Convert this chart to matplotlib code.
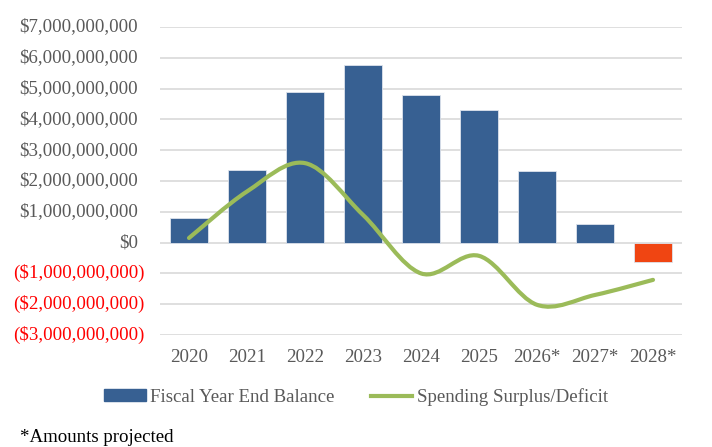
import matplotlib
matplotlib.use("Agg")
import matplotlib.pyplot as plt
from matplotlib.path import Path
from matplotlib.patches import PathPatch, Patch
from matplotlib.lines import Line2D
import numpy as np

years = ["2020", "2021", "2022", "2023", "2024", "2025", "2026*", "2027*", "2028*"]
balance = [0.80e9, 2.35e9, 4.90e9, 5.77e9, 4.80e9, 4.32e9, 2.33e9, 0.60e9, -0.62e9]
surplus = [0.15e9, 1.66e9, 2.58e9, 0.90e9, -1.00e9, -0.43e9, -2.02e9, -1.70e9, -1.21e9]
yticks = [-3e9, -2e9, -1e9, 0, 1e9, 2e9, 3e9, 4e9, 5e9, 6e9, 7e9]

BLUE = "#376092"
RED = "#F04512"
GREEN = "#9BBB59"
GREY = "#595959"
FS = 13.6

plt.rcParams["font.family"] = ["Liberation Serif", "DejaVu Serif"]

fig = plt.figure(figsize=(7.12, 4.47), dpi=100)
ax = fig.add_axes([160/712, 1-335/447, 522/712, 308/447])

x = np.arange(len(years))
colors = [BLUE if v >= 0 else RED for v in balance]
ax.bar(x, balance, width=0.66, color=colors, edgecolor="#dde3ec", linewidth=0.6, zorder=2)

# smoothed line like Excel (bezier through points)
pts = np.column_stack([x, surplus])
verts = [tuple(pts[0])]
codes = [Path.MOVETO]
n = len(pts)
for i in range(n - 1):
    p0 = pts[max(i - 1, 0)]
    p1 = pts[i]
    p2 = pts[i + 1]
    p3 = pts[min(i + 2, n - 1)]
    c1 = p1 + (p2 - p0) / 6
    c2 = p2 - (p3 - p1) / 6
    verts += [tuple(c1), tuple(c2), tuple(p2)]
    codes += [Path.CURVE4] * 3
ax.add_patch(PathPatch(Path(verts, codes), facecolor="none", edgecolor=GREEN,
                       lw=3, capstyle="round", joinstyle="round", zorder=3))

ax.set_xlim(-0.5, len(years) - 0.5)
ax.set_ylim(-3e9, 7e9)
ax.set_yticks(yticks)
ax.set_yticklabels([])
ax.tick_params(axis="y", length=0)
ax.grid(axis="y", color="#D9D9D9", lw=1.2, zorder=0)
ax.set_axisbelow(True)
for s in ax.spines.values():
    s.set_visible(False)

ax.set_xticks(x)
ax.set_xticklabels(years, fontsize=FS, color=GREY)
ax.tick_params(axis="x", length=0, pad=10)

for v in yticks:
    if v < 0:
        ax.text(-0.03, v, "(${:,.0f})".format(-v), transform=ax.get_yaxis_transform(),
                ha="right", va="center", fontsize=FS, color="#FF0000")
    else:
        ax.text(-0.042, v, "${:,.0f}".format(v), transform=ax.get_yaxis_transform(),
                ha="right", va="center", fontsize=FS, color=GREY)

handles = [Patch(color=BLUE, label="Fiscal Year End Balance"),
           Line2D([], [], color=GREEN, lw=3, label="Spending Surplus/Deficit")]
fig.legend(handles=handles, loc="center", bbox_to_anchor=(356/712, 1-397/447), ncol=2,
           frameon=False, fontsize=FS, handlelength=2.2, handleheight=0.6,
           handletextpad=0.25, columnspacing=1.9, labelcolor=GREY)

fig.text(20/712, 1-437/447, "*Amounts projected", fontsize=FS, color="black",
         ha="left", va="center")

fig.savefig("out.png", dpi=100)
